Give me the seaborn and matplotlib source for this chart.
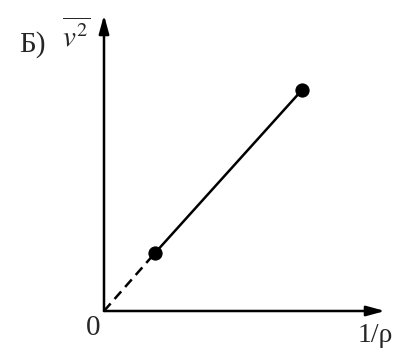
import numpy as np
import pandas as pd
import seaborn as sns
import matplotlib.pyplot as plt

sns.set_style('white')
plt.rcParams['font.family'] = ['Liberation Serif', 'DejaVu Serif']
plt.rcParams['mathtext.fontset'] = 'stix'

# measured points (1/rho, mean v^2)
inv_rho = [0.51, 1.98]
v2 = [0.58, 2.21]

# extrapolation back to the origin
ext_x = [0.0, inv_rho[0]]
ext_y = [0.0, v2[0]]

df = pd.DataFrame({'inv_rho': inv_rho, 'v2': v2})
df_ext = pd.DataFrame({'inv_rho': ext_x, 'v2': ext_y})

fig = plt.figure(figsize=(4.02, 3.52), dpi=100)
ax = fig.add_axes([104 / 402, 41 / 352, 281 / 402, 296 / 352])

# dashed part to origin, solid part between the points
sns.lineplot(data=df_ext, x='inv_rho', y='v2', ax=ax, color='black', lw=1.8,
             linestyle=(0, (4, 2.4)), sort=False)
sns.lineplot(data=df, x='inv_rho', y='v2', ax=ax, color='black', lw=1.8, sort=False)
sns.scatterplot(data=df, x='inv_rho', y='v2', ax=ax, color='black', s=90,
                edgecolor='black', zorder=5)

ax.set_xlim(0, 2.81)
ax.set_ylim(0, 2.96)
ax.set_xticks([])
ax.set_yticks([])
ax.set_xlabel('')
ax.set_ylabel('')
for s in ax.spines.values():
    s.set_visible(False)

# axes with arrow heads
arrow = dict(arrowstyle='-|>,head_length=1.1,head_width=0.3', color='black', lw=1.8,
             shrinkA=0, shrinkB=0)
ax.annotate('', xy=(1, 0), xytext=(0, 0), xycoords='axes fraction', arrowprops=arrow)
ax.annotate('', xy=(0, 1), xytext=(0, 0), xycoords='axes fraction', arrowprops=arrow)

# labels
fig.text(19 / 402, 1 - 45 / 352, 'Б)', fontsize=21, ha='left', va='center')
fig.text(62 / 402, 1 - 36 / 352, r'$\overline{v^{2}}$', fontsize=21, ha='left', va='center')
fig.text(93 / 402, 1 - 328 / 352, '0', fontsize=21, ha='center', va='center')
fig.text(358 / 402, 1 - 336 / 352, '1/ρ', fontsize=20, ha='left', va='center')

plt.savefig('out.png', dpi=100)
